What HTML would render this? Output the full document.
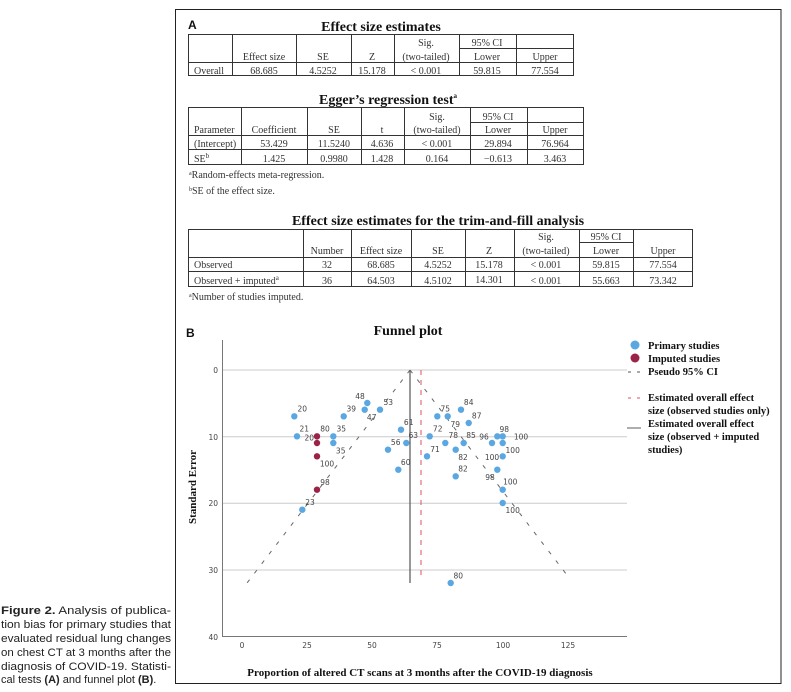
<!DOCTYPE html>
<html><head><meta charset="utf-8"><style>
html,body{margin:0;padding:0;background:#fff;}
svg{display:block;}
.t{font-family:"Liberation Serif",serif;font-size:10px;fill:#333;}
.c{text-anchor:middle;}
.h{font-family:"Liberation Serif",serif;font-weight:bold;fill:#111;}
.l{font-family:"DejaVu Sans","Liberation Sans",sans-serif;font-size:7.5px;fill:#444;text-anchor:middle;}
.cap{font-family:"Liberation Sans",sans-serif;font-size:11px;fill:#222;}
</style></head><body>
<svg width="791" height="692" viewBox="0 0 791 692" xmlns="http://www.w3.org/2000/svg">
<!-- frame -->
<line x1="175" y1="9.5" x2="781" y2="9.5" stroke="#222" stroke-width="1"/>
<line x1="781" y1="9" x2="781" y2="684" stroke="#222" stroke-width="1"/>
<line x1="175.5" y1="9" x2="175.5" y2="684" stroke="#222" stroke-width="1"/>
<line x1="175" y1="683.5" x2="781" y2="683.5" stroke="#222" stroke-width="1"/>

<!-- caption -->
<text class="cap" x="1" y="614" textLength="170" lengthAdjust="spacingAndGlyphs"><tspan font-weight="bold">Figure 2.</tspan> Analysis of publica-</text>
<text class="cap" x="1" y="628" textLength="170" lengthAdjust="spacingAndGlyphs">tion bias for primary studies that</text>
<text class="cap" x="1" y="642" textLength="170" lengthAdjust="spacingAndGlyphs">evaluated residual lung changes</text>
<text class="cap" x="1" y="656" textLength="170" lengthAdjust="spacingAndGlyphs">on chest CT at 3 months after the</text>
<text class="cap" x="1" y="670" textLength="170" lengthAdjust="spacingAndGlyphs">diagnosis of COVID-19. Statisti-</text>
<text class="cap" x="1" y="683">cal tests <tspan font-weight="bold">(A)</tspan> and funnel plot <tspan font-weight="bold">(B)</tspan>.</text>

<!-- A -->
<text x="188" y="29" font-family="Liberation Sans,sans-serif" font-weight="bold" font-size="12" fill="#111">A</text>
<text class="h c" x="381" y="31" font-size="14">Effect size estimates</text>
<g stroke="#333" stroke-width="1" fill="none">
<rect x="188.5" y="34.5" width="385" height="41"/>
<line x1="188" y1="62.5" x2="574" y2="62.5"/>
<line x1="459" y1="48.5" x2="574" y2="48.5"/>
<line x1="232.5" y1="34" x2="232.5" y2="76"/>
<line x1="296.5" y1="34" x2="296.5" y2="76"/>
<line x1="351.5" y1="34" x2="351.5" y2="76"/>
<line x1="394.5" y1="34" x2="394.5" y2="76"/>
<line x1="459.5" y1="34" x2="459.5" y2="76"/>
<line x1="516.5" y1="34" x2="516.5" y2="76"/>
</g>
<text class="t c" x="426" y="46">Sig.</text><text class="t c" x="487" y="46">95% CI</text>
<text class="t c" x="264" y="60">Effect size</text><text class="t c" x="323" y="60">SE</text><text class="t c" x="372" y="60">Z</text><text class="t c" x="426" y="60">(two-tailed)</text><text class="t c" x="487" y="60">Lower</text><text class="t c" x="545" y="60">Upper</text>
<text class="t" x="194" y="74">Overall</text><text class="t c" x="264" y="74">68.685</text><text class="t c" x="323" y="74">4.5252</text><text class="t c" x="372" y="74">15.178</text><text class="t c" x="426" y="74">&lt; 0.001</text><text class="t c" x="487" y="74">59.815</text><text class="t c" x="545" y="74">77.554</text>

<text class="h c" x="388" y="104" font-size="14">Egger’s regression test<tspan font-size="7" dy="-6">a</tspan></text>
<g stroke="#333" stroke-width="1" fill="none">
<rect x="188.5" y="107.5" width="395" height="57"/>
<line x1="470" y1="122.5" x2="584" y2="122.5"/>
<line x1="188" y1="135.5" x2="584" y2="135.5"/>
<line x1="188" y1="149.5" x2="584" y2="149.5"/>
<line x1="241.5" y1="107" x2="241.5" y2="165"/>
<line x1="307.5" y1="107" x2="307.5" y2="165"/>
<line x1="361.5" y1="107" x2="361.5" y2="165"/>
<line x1="404.5" y1="107" x2="404.5" y2="165"/>
<line x1="470.5" y1="107" x2="470.5" y2="165"/>
<line x1="527.5" y1="107" x2="527.5" y2="165"/>
</g>
<text class="t c" x="437" y="120">Sig.</text><text class="t c" x="498" y="120">95% CI</text>
<text class="t" x="194" y="133">Parameter</text><text class="t c" x="274" y="133">Coefficient</text><text class="t c" x="334" y="133">SE</text><text class="t c" x="382" y="133">t</text><text class="t c" x="437" y="133">(two-tailed)</text><text class="t c" x="498" y="133">Lower</text><text class="t c" x="555" y="133">Upper</text>
<text class="t" x="194" y="147">(Intercept)</text><text class="t c" x="274" y="147">53.429</text><text class="t c" x="334" y="147">11.5240</text><text class="t c" x="382" y="147">4.636</text><text class="t c" x="437" y="147">&lt; 0.001</text><text class="t c" x="498" y="147">29.894</text><text class="t c" x="555" y="147">76.964</text>
<text class="t" x="194" y="162">SE<tspan font-size="7" dy="-4">b</tspan></text><text class="t c" x="274" y="162">1.425</text><text class="t c" x="334" y="162">0.9980</text><text class="t c" x="382" y="162">1.428</text><text class="t c" x="437" y="162">0.164</text><text class="t c" x="498" y="162">−0.613</text><text class="t c" x="555" y="162">3.463</text>
<text class="t" x="189" y="178" font-size="9"><tspan font-size="6" dy="-3">a</tspan><tspan dy="3">Random-effects meta-regression.</tspan></text>
<text class="t" x="189" y="194" font-size="9"><tspan font-size="6" dy="-3">b</tspan><tspan dy="3">SE of the effect size.</tspan></text>

<text class="h c" x="438" y="225" font-size="14">Effect size estimates for the trim-and-fill analysis</text>
<g stroke="#333" stroke-width="1" fill="none">
<rect x="188.5" y="229.5" width="504" height="57"/>
<line x1="579" y1="242.5" x2="633" y2="242.5"/>
<line x1="188" y1="257.5" x2="693" y2="257.5"/>
<line x1="188" y1="271.5" x2="693" y2="271.5"/>
<line x1="303.5" y1="229" x2="303.5" y2="287"/>
<line x1="351.5" y1="229" x2="351.5" y2="287"/>
<line x1="411.5" y1="229" x2="411.5" y2="287"/>
<line x1="465.5" y1="229" x2="465.5" y2="287"/>
<line x1="514.5" y1="229" x2="514.5" y2="287"/>
<line x1="579.5" y1="229" x2="579.5" y2="287"/>
<line x1="633.5" y1="229" x2="633.5" y2="287"/>
</g>
<text class="t c" x="546" y="240">Sig.</text><text class="t c" x="606" y="240">95% CI</text>
<text class="t c" x="327" y="254">Number</text><text class="t c" x="381" y="254">Effect size</text><text class="t c" x="438" y="254">SE</text><text class="t c" x="489" y="254">Z</text><text class="t c" x="546" y="254">(two-tailed)</text><text class="t c" x="606" y="254">Lower</text><text class="t c" x="663" y="254">Upper</text>
<text class="t" x="194" y="268">Observed</text><text class="t c" x="327" y="268">32</text><text class="t c" x="381" y="268">68.685</text><text class="t c" x="438" y="268">4.5252</text><text class="t c" x="489" y="268">15.178</text><text class="t c" x="546" y="268">&lt; 0.001</text><text class="t c" x="606" y="268">59.815</text><text class="t c" x="663" y="268">77.554</text>
<text class="t" x="194" y="284">Observed + imputed<tspan font-size="7" dy="-4">a</tspan></text><text class="t c" x="327" y="284">36</text><text class="t c" x="381" y="284">64.503</text><text class="t c" x="438" y="284">4.5102</text><text class="t c" x="489" y="283">14.301</text><text class="t c" x="546" y="284">&lt; 0.001</text><text class="t c" x="606" y="284">55.663</text><text class="t c" x="663" y="284">73.342</text>
<text class="t" x="189" y="300" font-size="9"><tspan font-size="6" dy="-3">a</tspan><tspan dy="3">Number of studies imputed.</tspan></text>

<!-- B -->
<text x="186" y="337" font-family="Liberation Sans,sans-serif" font-weight="bold" font-size="12" fill="#111">B</text>
<text class="h c" x="408" y="335" font-size="14">Funnel plot</text>

<g stroke="#ccc" stroke-width="1">
<line x1="222" y1="370" x2="627" y2="370"/>
<line x1="222" y1="436.7" x2="627" y2="436.7"/>
<line x1="222" y1="503.3" x2="627" y2="503.3"/>
<line x1="222" y1="570" x2="627" y2="570"/>
</g>
<line x1="222.5" y1="340" x2="222.5" y2="637" stroke="#777" stroke-width="1"/>
<line x1="222" y1="636.5" x2="627" y2="636.5" stroke="#777" stroke-width="1"/>
<g font-family="DejaVu Sans,sans-serif" font-size="7.5" fill="#444" text-anchor="end">
<text x="218" y="373">0</text><text x="218" y="440">10</text><text x="218" y="506">20</text><text x="218" y="573">30</text><text x="218" y="640">40</text>
</g>
<g font-family="DejaVu Sans,sans-serif" font-size="7.5" fill="#444" text-anchor="middle">
<text x="242" y="648">0</text><text x="307" y="648">25</text><text x="372" y="648">50</text><text x="437" y="648">75</text><text x="503" y="648">100</text><text x="568" y="648">125</text>
</g>
<text class="h" transform="translate(196,487) rotate(-90)" text-anchor="middle" font-size="11" font-weight="normal">Standard Error</text>
<text class="h c" x="420" y="676" font-size="11">Proportion of altered CT scans at 3 months after the COVID-19 diagnosis</text>

<!-- lines -->
<line x1="410" y1="370" x2="410" y2="583" stroke="#555" stroke-width="1.2"/>
<line x1="421" y1="370" x2="421" y2="578" stroke="#e05060" stroke-width="1" stroke-dasharray="5,5"/>
<line x1="410" y1="370" x2="247" y2="583" stroke="#666" stroke-width="1" stroke-dasharray="4,8"/>
<line x1="410" y1="370" x2="570" y2="579" stroke="#666" stroke-width="1" stroke-dasharray="4,8"/>

<!-- points -->
<g fill="#5aa7e2">
<circle cx="294.3" cy="416.3" r="3.2"/><circle cx="297" cy="436.3" r="3.2"/><circle cx="333.3" cy="436.3" r="3.2"/><circle cx="333.3" cy="443" r="3.2"/>
<circle cx="343.7" cy="416.3" r="3.2"/><circle cx="364.7" cy="409.7" r="3.2"/><circle cx="367.3" cy="403" r="3.2"/><circle cx="380" cy="409.7" r="3.2"/>
<circle cx="401" cy="429.7" r="3.2"/><circle cx="406.3" cy="443" r="3.2"/><circle cx="388" cy="449.7" r="3.2"/><circle cx="398.3" cy="469.7" r="3.2"/>
<circle cx="302.3" cy="509.7" r="3.2"/><circle cx="429.7" cy="436.3" r="3.2"/><circle cx="427" cy="456.3" r="3.2"/><circle cx="437.3" cy="416.3" r="3.2"/>
<circle cx="447.7" cy="416.3" r="3.2"/><circle cx="461" cy="409.7" r="3.2"/><circle cx="468.7" cy="423" r="3.2"/><circle cx="445.3" cy="443" r="3.2"/>
<circle cx="455.7" cy="449.7" r="3.2"/><circle cx="463.7" cy="443" r="3.2"/><circle cx="455.7" cy="476.3" r="3.2"/><circle cx="492" cy="443" r="3.2"/>
<circle cx="497.3" cy="436.3" r="3.2"/><circle cx="502.7" cy="436.3" r="3.2"/><circle cx="502.7" cy="443" r="3.2"/><circle cx="502.7" cy="456.3" r="3.2"/>
<circle cx="497.3" cy="469.7" r="3.2"/><circle cx="502.7" cy="489.7" r="3.2"/><circle cx="502.7" cy="503" r="3.2"/><circle cx="450.7" cy="583" r="3.2"/>
</g>
<g fill="#9c2348">
<circle cx="317" cy="436.3" r="3.2"/><circle cx="317" cy="443" r="3.2"/><circle cx="317" cy="456.3" r="3.2"/><circle cx="317" cy="489.7" r="3.2"/>
</g>
<g class="l">
<text class="l" x="302.3" y="411.5">20</text><text class="l" x="304.3" y="431.5">21</text><text class="l" x="325" y="431.5">80</text><text class="l" x="341.3" y="431.5">35</text>
<text class="l" x="309.3" y="440.5">20</text><text class="l" x="340.7" y="453.5">35</text><text class="l" x="327" y="466.5">100</text><text class="l" x="325" y="485">98</text>
<text class="l" x="310" y="505">23</text><text class="l" x="351.3" y="411.5">39</text><text class="l" x="371.7" y="420">47</text><text class="l" x="360" y="399">48</text>
<text class="l" x="388.3" y="405">53</text><text class="l" x="408.7" y="425">61</text><text class="l" x="395.7" y="445">56</text><text class="l" x="413.3" y="438">63</text>
<text class="l" x="405.7" y="465">60</text><text class="l" x="445.3" y="411.5">75</text><text class="l" x="468.7" y="405">84</text><text class="l" x="476.7" y="418.5">87</text>
<text class="l" x="455.3" y="427">79</text><text class="l" x="437.7" y="431.5">72</text><text class="l" x="453.3" y="438">78</text><text class="l" x="471" y="438">85</text>
<text class="l" x="484" y="439.5">96</text><text class="l" x="504.3" y="432">98</text><text class="l" x="521" y="439.5">100</text><text class="l" x="435" y="452">71</text>
<text class="l" x="463" y="460">82</text><text class="l" x="512.7" y="453">100</text><text class="l" x="492" y="460">100</text><text class="l" x="463" y="471.5">82</text>
<text class="l" x="490" y="480">98</text><text class="l" x="510.3" y="484.5">100</text><text class="l" x="512.7" y="513">100</text><text class="l" x="458.3" y="578.5">80</text>
</g>

<!-- legend -->
<circle cx="635" cy="345" r="4.5" fill="#5aa7e2"/>
<circle cx="635" cy="358" r="4.5" fill="#9c2348"/>
<line x1="628" y1="372" x2="642" y2="372" stroke="#555" stroke-width="1" stroke-dasharray="3,6"/>
<line x1="628" y1="398" x2="642" y2="398" stroke="#e05060" stroke-width="1" stroke-dasharray="3,6"/>
<line x1="627" y1="428" x2="641" y2="428" stroke="#777" stroke-width="1.2"/>
<g class="h" font-size="10.5">
<text x="648" y="349">Primary studies</text>
<text x="648" y="362">Imputed studies</text>
<text x="648" y="375">Pseudo 95% CI</text>
<text x="648" y="401">Estimated overall effect</text>
<text x="648" y="414">size (observed studies only)</text>
<text x="648" y="427">Estimated overall effect</text>
<text x="648" y="440">size (observed + imputed</text>
<text x="648" y="453">studies)</text>
</g>
</svg>
</body></html>
